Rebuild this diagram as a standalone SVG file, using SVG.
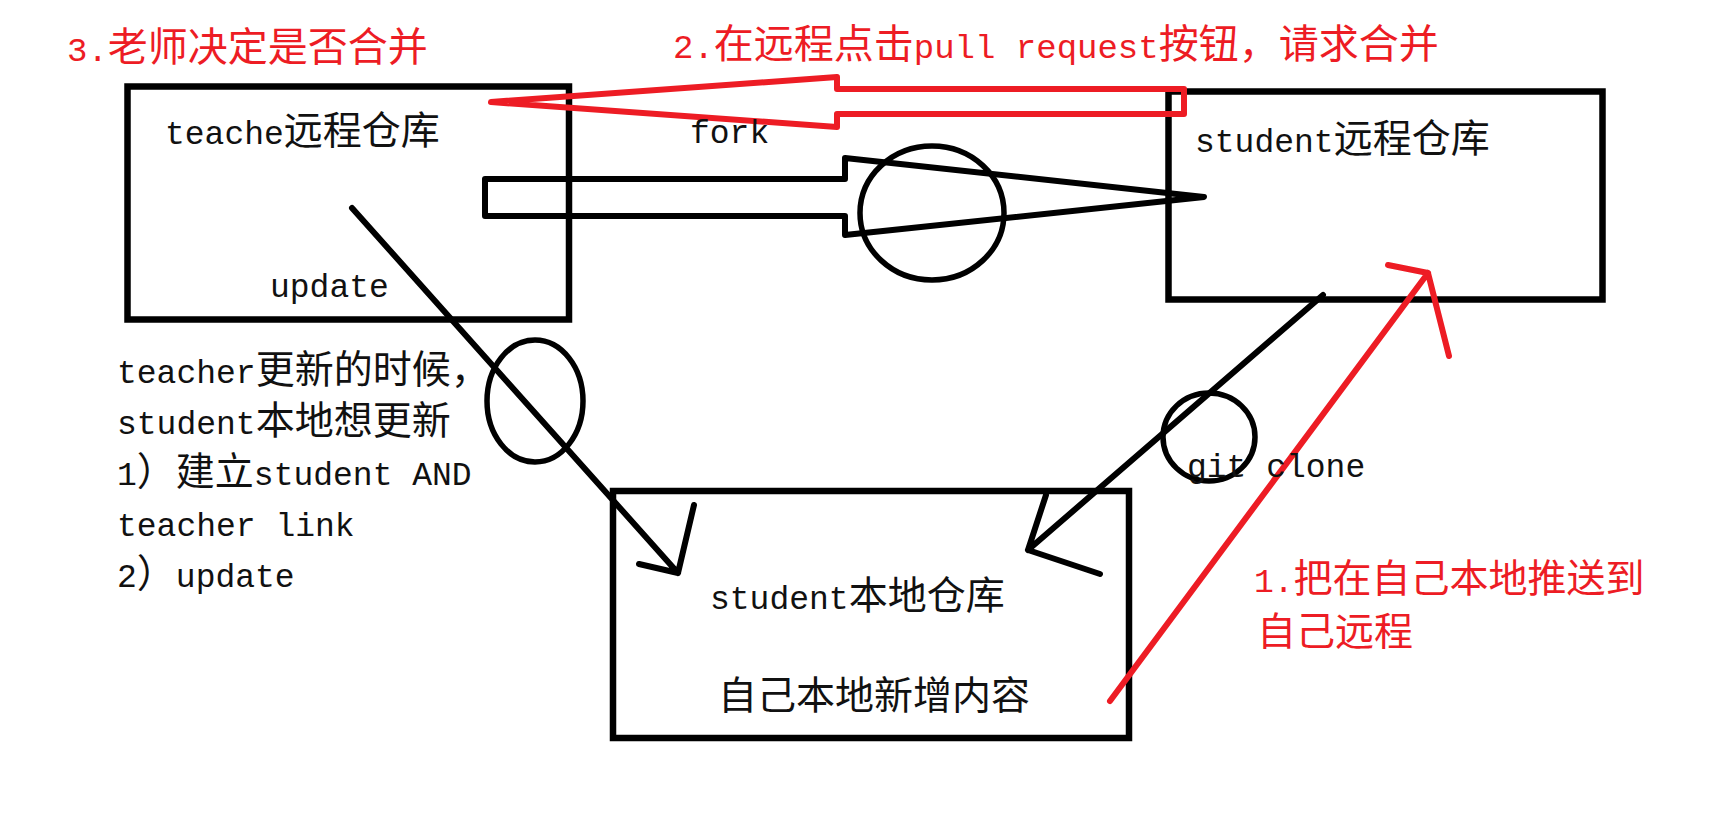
<svg xmlns="http://www.w3.org/2000/svg" width="1720" height="837" viewBox="0 0 1720 837">
<style>
  .box{fill:none;stroke:#000;stroke-width:6.5}
  .blk{fill:none;stroke:#000;stroke-width:6;stroke-linecap:round;stroke-linejoin:round}
  .red{fill:none;stroke:#ed1c24;stroke-width:6;stroke-linecap:round;stroke-linejoin:round}
  .ring{fill:none;stroke:#000;stroke-width:5.5}
  text{font-family:"Liberation Mono","Noto Sans CJK SC",monospace;font-size:33px;fill:#111}
  .c{font-size:39px}
  .rt{fill:#ed1c24}
  .t{font-size:34px}
  .t .c{font-size:40px}
</style>
<rect width="1720" height="837" fill="#fff"/>
<g id="teacher-remote">
  <rect class="box" x="127.5" y="86.5" width="441.5" height="233"/>
  <text x="165" y="144">teache<tspan class="c">远程仓库</tspan></text>
  <text x="270" y="297">update</text>
</g>
<g id="student-remote">
  <rect class="box" x="1168.5" y="91.5" width="434" height="208"/>
  <text x="1195" y="152">student<tspan class="c">远程仓库</tspan></text>
</g>
<g id="student-local">
  <rect class="box" x="613" y="491" width="516" height="247"/>
  <text x="710" y="609">student<tspan class="c">本地仓库</tspan></text>
  <text x="718" y="709" class="c">自己本地新增内容</text>
</g>
<g id="connectors">
  <polygon class="blk" points="485,179 845,179 845,158 1204,197 845,235 845,216 485,216"/>
  <ellipse class="ring" cx="932" cy="213" rx="72" ry="67"/>
  <path class="blk" d="M352,208 L678,573 M694,505 L678,573 L639,564"/>
  <ellipse class="ring" cx="535" cy="401" rx="48" ry="61"/>
  <path class="blk" d="M1323,295 L1028,550 M1046,495 L1028,550 L1100,574"/>
  <ellipse class="ring" cx="1209" cy="437" rx="46" ry="44"/>
  <polygon class="red" points="491,102 837,77 837,89 1184,89 1184,114 837,114 837,127"/>
  <path class="red" d="M1110,701 L1428,273 M1388,265 L1428,273 L1449,356"/>
</g>
<g id="labels">
  <text x="690" y="143">fork</text>
  <text x="1187" y="477">git clone</text>
  <text x="117" y="383">teacher<tspan class="c">更新的时候，</tspan></text>
  <text x="117" y="434">student<tspan class="c">本地想更新</tspan></text>
  <text x="117" y="485">1<tspan class="c">）建立</tspan>student AND</text>
  <text x="117" y="536">teacher link</text>
  <text x="117" y="587">2<tspan class="c">）</tspan>update</text>
</g>
<g id="annotations">
  <text class="rt t" x="67" y="61">3.<tspan class="c">老师决定是否合并</tspan></text>
  <text class="rt t" x="673" y="58">2.<tspan class="c">在远程点击</tspan>pull request<tspan class="c">按钮，请求合并</tspan></text>
  <text class="rt" x="1254" y="592">1.<tspan class="c">把在自己本地推送到</tspan></text>
  <text class="rt c" x="1257" y="645">自己远程</text>
</g>
</svg>
